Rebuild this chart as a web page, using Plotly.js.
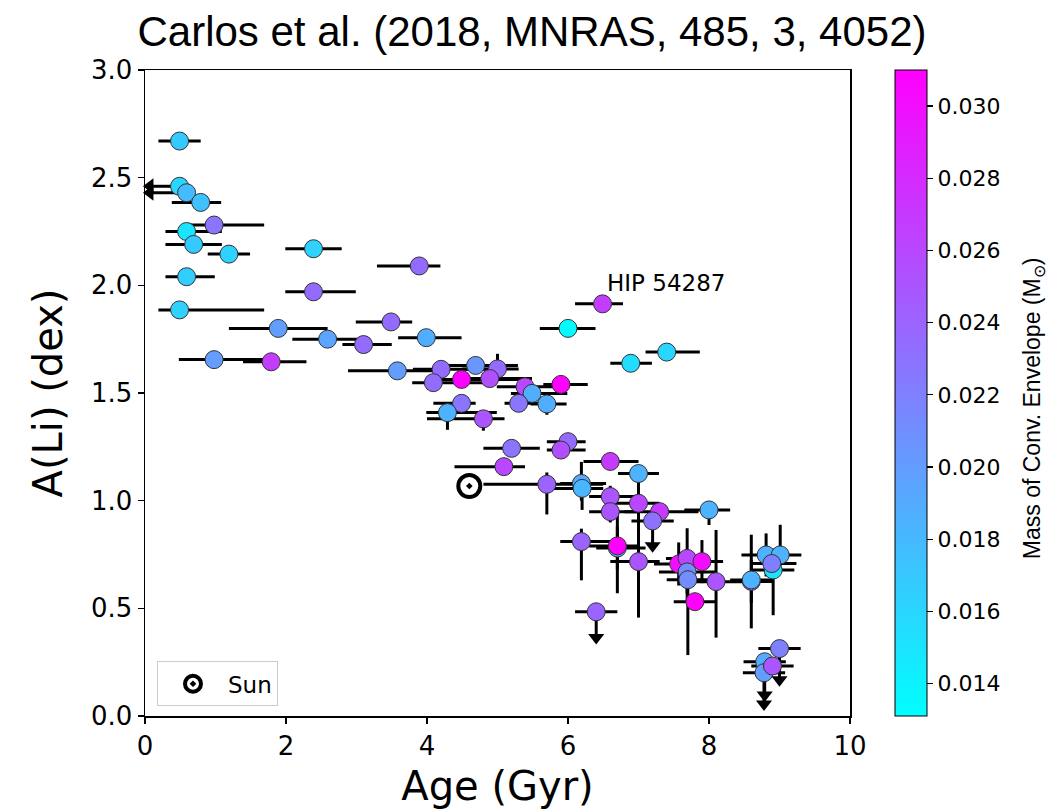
<!DOCTYPE html>
<html>
<head>
<meta charset="utf-8">
<script src="https://cdn.plot.ly/plotly-3.0.1.min.js"></script>
<style>html,body{margin:0;padding:0;background:#fff;}#chart{width:1064px;height:812px;}</style>
</head>
<body>
<div id="chart"></div>
<script>
// Age (Gyr)
const ages =      [0.49,0.49,0.59,0.79,0.98,0.59,0.69,1.19,2.39,3.89,0.59,2.39,0.49,1.89,2.59,3.10,3.49,3.99,0.98,1.79,3.58,4.20,4.69,5.00,4.09,4.49,4.89,5.39,5.90,5.49,5.30,5.70,4.49,4.29,4.80,5.20,6.00,5.90,5.09,6.60,7.00,5.70,6.19,6.20,6.60,7.00,6.60,7.30,7.20,8.00,6.19,6.70,6.70,7.00,7.57,7.69,7.90,7.69,7.70,8.10,7.80,8.60,8.60,8.91,8.81,9.01,8.89,6.40,9.00,8.79,8.78,8.90,6.00,6.49,6.89,7.40];
const ageErrLo =  [0.30,0.42,0.52,0.41,0.40,0.30,0.40,0.30,0.40,0.60,0.30,0.40,0.30,0.70,0.50,0.30,0.50,0.40,0.50,0.40,0.70,0.40,0.50,0.50,0.30,0.50,0.50,0.40,0.25,0.30,0.20,0.23,0.40,0.30,0.80,0.40,0.30,0.20,0.70,0.38,0.29,0.90,0.30,0.40,0.30,0.35,0.30,0.50,0.30,0.35,0.30,0.30,0.40,0.40,0.35,0.30,0.30,0.40,0.30,0.40,0.30,0.30,0.30,0.30,0.35,0.25,0.30,0.30,0.30,0.30,0.30,0.30,0.40,0.39,0.29,0.30];
const ageErrHi =  [0.30,0.00,0.00,0.29,0.71,0.50,0.40,0.30,0.40,0.30,0.40,0.60,1.20,0.70,0.60,0.40,0.30,0.50,0.80,0.50,0.60,0.80,0.60,0.30,0.90,0.80,0.60,0.40,0.38,0.50,0.30,0.28,0.20,0.70,0.30,0.40,0.25,0.35,0.30,0.40,0.29,0.80,0.35,0.30,0.40,0.30,0.40,0.55,0.30,0.30,0.45,0.40,0.30,0.30,0.30,0.30,0.30,0.40,0.30,0.40,0.30,0.30,0.30,0.30,0.30,0.30,0.35,0.30,0.30,0.30,0.30,0.30,0.39,0.29,0.30,0.47];
// A(Li) (dex)
const ali =       [2.67,2.46,2.43,2.385,2.28,2.25,2.19,2.145,2.17,2.09,2.04,1.97,1.886,1.80,1.75,1.725,1.83,1.757,1.655,1.645,1.603,1.61,1.628,1.612,1.548,1.563,1.567,1.529,1.54,1.498,1.452,1.449,1.452,1.409,1.38,1.243,1.274,1.235,1.158,1.182,1.126,1.076,1.08,1.057,1.019,0.988,0.949,0.949,0.906,0.957,0.81,0.78,0.79,0.717,0.706,0.732,0.717,0.669,0.633,0.624,0.531,0.625,0.632,0.678,0.748,0.748,0.708,0.484,0.313,0.252,0.201,0.232,1.80,1.914,1.638,1.69];
const aliErrLo =  [0,0,0,0,0,0,0,0,0,0,0,0,0,0,0,0,0,0,0,0,0,0,0,0.05,0,0,0,0,0,0.05,0,0.05,0,0.08,0.055,0,0,0.02,0.02,0,0.126,0.14,0.08,0.10,0.05,0.05,0.05,0,0.115,0.07,0.18,0.10,0.22,0.26,0.10,0.20,0.10,0.10,0.35,0.26,0,0.10,0.225,0.21,0.10,0.05,0.05,0.12,0.145,0.155,0.145,0,0,0,0,0];
const aliErrHi =  [0,0,0,0,0,0,0,0,0,0,0,0,0,0,0,0,0,0,0.03,0,0,0,0,0.07,0,0,0,0,0,0.03,0,0,0,0,0,0,0,0,0,0,0,0.055,0.10,0.05,0.05,0.05,0.05,0,0,0,0.06,0.10,0.15,0.30,0.10,0.14,0.10,0.10,0.10,0.24,0,0.10,0.21,0.10,0.10,0.14,0.05,0,0,0,0,0,0,0,0,0];
// Mass of convective envelope (Msun)
const mce =       [0.0168,0.0160,0.0178,0.0175,0.0228,0.0150,0.0168,0.0163,0.0163,0.0235,0.0165,0.0235,0.0163,0.0200,0.0195,0.0235,0.0235,0.0188,0.0200,0.0268,0.0200,0.0235,0.0205,0.0235,0.0235,0.0310,0.0255,0.0260,0.0310,0.0188,0.0228,0.0188,0.0228,0.0185,0.0250,0.0228,0.0235,0.0255,0.0260,0.0270,0.0185,0.0240,0.0190,0.0182,0.0250,0.0260,0.0250,0.0270,0.0230,0.0185,0.0240,0.0185,0.0310,0.0250,0.0300,0.0260,0.0300,0.0212,0.0212,0.0250,0.0310,0.0250,0.0185,0.0150,0.0185,0.0185,0.0220,0.0240,0.0220,0.0190,0.0200,0.0250,0.0133,0.0268,0.0155,0.0160];
// upper limits: 1 = A(Li) upper limit, 2 = age upper limit
const limitFlag = [0,2,2,0,0,0,0,0,0,0,0,0,0,0,0,0,0,0,0,0,0,0,0,0,0,0,0,0,0,0,0,0,0,0,0,0,0,0,0,0,0,0,0,0,0,0,0,0,1,0,0,0,0,0,0,0,0,0,0,0,0,0,0,0,0,0,0,1,1,1,1,0,0,0,0,0];
const sunAge = [4.6];
const sunALi = [1.068];
const labelStar = {name: 'HIP 54287', age: 6.49, ali: 1.914};
const colorTicks = [0.014,0.016,0.018,0.020,0.022,0.024,0.026,0.028,0.030];
const colorTitle = 'Mass of Conv. Envelope (M<sub>⊙</sub>)';

const tickFont = {family: 'DejaVu Sans', size: 26, color: '#000'};

const downX = [], downY = [], leftX = [], leftY = [];
for (let i = 0; i < ages.length; i++) {
  if (limitFlag[i] === 1) { downX.push(ages[i]); downY.push(ali[i] - aliErrLo[i]); }
  if (limitFlag[i] === 2) { leftX.push(ages[i] - ageErrLo[i]); leftY.push(ali[i]); }
}

const stars = {
  type: 'scatter', mode: 'markers', x: ages, y: ali, showlegend: false, hoverinfo: 'skip',
  cliponaxis: false,
  error_x: {type: 'data', symmetric: false, array: ageErrHi, arrayminus: ageErrLo, color: '#000', thickness: 3, width: 0},
  error_y: {type: 'data', symmetric: false, array: aliErrHi, arrayminus: aliErrLo, color: '#000', thickness: 3, width: 0},
  marker: {
    size: 18, color: mce, cmin: 0.0131, cmax: 0.0310,
    colorscale: [[0, 'rgb(0,255,255)'], [1, 'rgb(255,0,255)']],
    line: {color: '#333', width: 1},
    colorbar: {
      x: 1.064, xanchor: 'left', xpad: 0, ypad: 0, y: 0.5, yanchor: 'middle',
      len: 1, lenmode: 'fraction', thickness: 32, thicknessmode: 'pixels',
      outlinecolor: '#000', outlinewidth: 1,
      ticks: 'outside', ticklen: 6, tickwidth: 1.2, tickcolor: '#000',
      tickvals: colorTicks, tickformat: '.3f', tickfont: {family: 'DejaVu Sans', size: 22, color: '#000'}
    }
  }
};

const downArrows = {
  type: 'scatter', mode: 'markers', x: downX, y: downY, showlegend: false, hoverinfo: 'skip', cliponaxis: false,
  marker: {symbol: 'triangle-down', size: 14, color: '#000', line: {width: 0}}
};
const leftArrows = {
  type: 'scatter', mode: 'markers', x: leftX, y: leftY, showlegend: false, hoverinfo: 'skip', cliponaxis: false,
  marker: {symbol: 'triangle-left', size: 14, color: '#000', line: {width: 0}}
};
const sun = {
  type: 'scatter', mode: 'markers', x: sunAge, y: sunALi, name: 'Sun', hoverinfo: 'skip',
  marker: {symbol: 'circle-dot', size: 22, color: '#fff', line: {color: '#000', width: 4}}
};

const layout = {
  width: 1064, height: 812,
  margin: {l: 145, r: 214, t: 70, b: 96, pad: 0},
  paper_bgcolor: '#fff', plot_bgcolor: '#fff',
  title: {text: 'Carlos et al. (2018, MNRAS, 485, 3, 4052)', x: 0.5, xref: 'container', xanchor: 'center',
          y: 0.962, yref: 'container', yanchor: 'middle',
          font: {family: 'Liberation Sans', size: 42, color: '#000'}},
  xaxis: {
    range: [0, 10], tickvals: [0, 2, 4, 6, 8, 10], ticks: 'outside', ticklen: 6, tickwidth: 1.2, tickcolor: '#000',
    showgrid: false, zeroline: false, showline: true, linecolor: '#000', linewidth: 1.5, mirror: true,
    tickfont: tickFont,
    title: {text: 'Age (Gyr)', standoff: 12, font: {family: 'DejaVu Sans', size: 40, color: '#000'}}
  },
  yaxis: {
    range: [0, 3], tickvals: [0, 0.5, 1, 1.5, 2, 2.5, 3], tickformat: '.1f', ticks: 'outside', ticklen: 6, tickwidth: 1.2, tickcolor: '#000',
    showgrid: false, zeroline: false, showline: true, linecolor: '#000', linewidth: 1.5, mirror: true,
    tickfont: tickFont,
    title: {text: 'A(Li) (dex)', standoff: 16, font: {family: 'DejaVu Sans', size: 40, color: '#000'}}
  },
  legend: {x: 0.017, y: 0.015, xanchor: 'left', yanchor: 'bottom', bgcolor: '#fff', bordercolor: '#ccc', borderwidth: 1,
           itemwidth: 60, font: {family: 'DejaVu Sans', size: 23, color: '#000'}},
  showlegend: true,
  annotations: [
    {x: labelStar.age, y: labelStar.ali, xref: 'x', yref: 'y', text: labelStar.name, showarrow: false,
     xanchor: 'left', yanchor: 'bottom', xshift: 2, yshift: 6, font: {family: 'DejaVu Sans', size: 23, color: '#000'}},
    {x: 1.2596, y: 0.475, xref: 'paper', yref: 'paper', text: colorTitle, showarrow: false, textangle: -90,
     xanchor: 'center', yanchor: 'middle', font: {family: 'Liberation Sans', size: 23, color: '#000'}}
  ]
};

Plotly.newPlot('chart', [stars, downArrows, leftArrows, sun], layout, {displayModeBar: false, staticPlot: true});
</script>
</body>
</html>
